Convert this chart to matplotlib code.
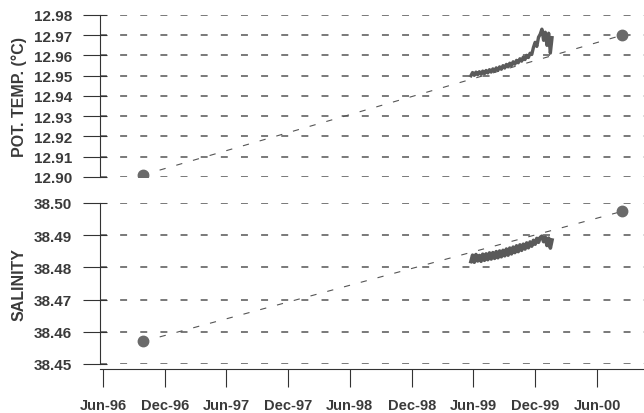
import numpy as np
import matplotlib
matplotlib.use('Agg')
import matplotlib.dates as mdates
from matplotlib import pyplot as plt

plt.rcParams['font.family'] = ['Liberation Sans', 'DejaVu Sans']
plt.rcParams['font.weight'] = 'bold'
plt.rcParams['lines.scale_dashes'] = False

# CTD casts (two end points) for each panel
cast_dates = np.array(['1996-09-27', '2000-08-14'], dtype='datetime64[D]')
cast_temp = [12.901, 12.970]
cast_sal = [38.457, 38.4974]

# moored record, one value every 5 days
rec_dates = np.arange(np.datetime64('1999-05-25'), np.datetime64('2000-01-21'), 5)
rec_temp = [12.9500, 12.9516, 12.9502, 12.9518, 12.9505, 12.9520, 12.9507, 12.9523, 12.9510, 12.9526,
            12.9514, 12.9530, 12.9518, 12.9534, 12.9522, 12.9539, 12.9527, 12.9544, 12.9532, 12.9550,
            12.9538, 12.9556, 12.9544, 12.9562, 12.9550, 12.9569, 12.9557, 12.9576, 12.9564, 12.9584,
            12.9572, 12.9592, 12.9580, 12.9601, 12.9590, 12.9611,
            12.9605, 12.9640, 12.9665, 12.9645, 12.9690, 12.9705, 12.9730, 12.9675, 12.9715, 12.9650,
            12.9710, 12.9612, 12.9688]
rec_sal = [38.4818, 38.4838, 38.4816, 38.4840, 38.4820, 38.4837, 38.4819, 38.4841, 38.4822, 38.4842,
           38.4824, 38.4845, 38.4826, 38.4846, 38.4828, 38.4849, 38.4830, 38.4851, 38.4833, 38.4853,
           38.4836, 38.4857, 38.4838, 38.4860, 38.4842, 38.4863, 38.4846, 38.4867, 38.4849, 38.4870,
           38.4853, 38.4872, 38.4857, 38.4876, 38.4861, 38.4879,
           38.4866, 38.4884, 38.4872, 38.4890, 38.4878, 38.4893, 38.4897, 38.4880, 38.4894, 38.4868,
           38.4891, 38.4860, 38.4885]

tick_dates = np.array(['1996-06-01', '1996-12-01', '1997-06-01', '1997-12-01', '1998-06-01',
                       '1998-12-01', '1999-06-01', '1999-12-01', '2000-06-01'], dtype='datetime64[D]')
tick_labels = ['Jun-96', 'Dec-96', 'Jun-97', 'Dec-97', 'Jun-98', 'Dec-98', 'Jun-99', 'Dec-99', 'Jun-00']

temp_ticks = [12.90, 12.91, 12.92, 12.93, 12.94, 12.95, 12.96, 12.97, 12.98]
sal_ticks = [38.45, 38.46, 38.47, 38.48, 38.49, 38.50]

txt = '#3a3a3a'
mark = '#6a6a6a'
xlim = (np.datetime64('1996-05-23'), np.datetime64('2000-10-18'))

fig = plt.figure(figsize=(6.44, 4.14), dpi=100)
ax1 = fig.add_axes([100/644, 1 - 178/414, 544/644, 162/414])
ax2 = fig.add_axes([100/644, 1 - 365/414, 544/644, 161/414])


def style_panel(ax, yticks, ylabel):
    ax.set_ylim(yticks[0], yticks[-1])
    ax.set_yticks(yticks)
    ax.set_yticklabels(['%.2f' % v for v in yticks], fontsize=11, color=txt, fontweight='bold')
    ax.set_yticks(yticks, minor=True)
    ax.yaxis.remove_overlapping_locs = False
    ax.tick_params(axis='y', which='major', direction='out', length=12, width=0.8,
                   color='#333333', pad=8)
    ax.tick_params(axis='y', which='minor', direction='in', length=5, width=0.8, color='#333333')
    for v in yticks:
        ax.axhline(v, color='#555555', lw=1.1, ls=(0, (5, 9.5)), zorder=0)
    for s in ['top', 'right']:
        ax.spines[s].set_visible(False)
    ax.spines['left'].set_linewidth(0.8)
    ax.spines['left'].set_color('#333333')
    ax.set_ylabel(ylabel, fontsize=11.5, color=txt, fontweight='bold')
    ax.yaxis.set_label_coords(-0.135, 0.5)
    ax.set_xlim(xlim)


# potential temperature
ax1.plot(cast_dates, cast_temp, color='#555555', lw=0.8, ls=(0, (4.5, 8)))
ax1.plot(cast_dates, cast_temp, 'o', color=mark, ms=7.5, zorder=5)
ax1.plot(rec_dates, rec_temp, color='#5a5a5a', lw=2.4)
style_panel(ax1, temp_ticks, 'POT. TEMP. (°C)')
ax1.spines['bottom'].set_visible(False)
ax1.set_xticks([])

# salinity
ax2.plot(cast_dates, cast_sal, color='#555555', lw=0.8, ls=(0, (4.5, 8)))
ax2.plot(cast_dates, cast_sal, 'o', color=mark, ms=7.5, zorder=5)
ax2.plot(rec_dates, rec_sal, color='#5a5a5a', lw=2.6)
style_panel(ax2, sal_ticks, 'SALINITY')
ax2.spines['bottom'].set_position(('outward', 3.6))
ax2.spines['bottom'].set_linewidth(0.8)
ax2.spines['bottom'].set_color('#333333')
ax2.set_xticks(mdates.date2num(tick_dates))
ax2.set_xticklabels(tick_labels, fontsize=10.5, color=txt, fontweight='bold')
ax2.tick_params(axis='x', direction='out', length=13, width=0.8, color='#333333', pad=8)

fig.savefig('out.png', dpi=100)
